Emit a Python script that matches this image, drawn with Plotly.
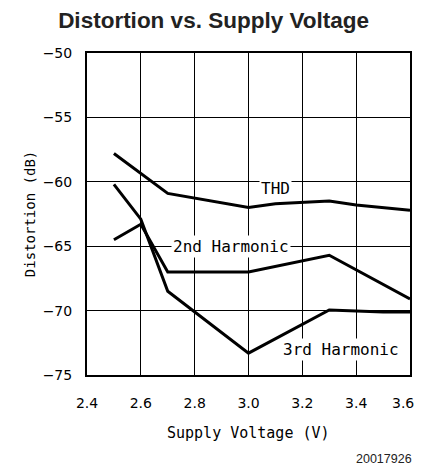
import plotly.graph_objects as go

thd_x = [2.5, 2.7, 3.0, 3.1, 3.3, 3.4, 3.6]
thd_y = [-57.8, -60.9, -62.0, -61.7, -61.5, -61.8, -62.2]
h2_x = [2.5, 2.6, 2.7, 3.0, 3.3, 3.6]
h2_y = [-64.5, -63.3, -67.0, -67.0, -65.7, -69.1]
h3_x = [2.5, 2.6, 2.7, 3.0, 3.3, 3.5, 3.6]
h3_y = [-60.2, -62.9, -68.5, -73.3, -69.95, -70.1, -70.1]

labels = ["THD", "2nd Harmonic", "3rd Harmonic"]
label_x = [3.1, 2.935, 3.343]
label_y = [-60.5, -65.0, -73.0]

x_ticks = [2.4, 2.6, 2.8, 3.0, 3.2, 3.4, 3.6]
x_ticktext = ["2.4", "2.6", "2.8", "3.0", "3.2", "3.4", "3.6"]
y_ticks = [-75, -70, -65, -60, -55, -50]
y_ticktext = ["\u221275", "\u221270", "\u221265", "\u221260", "\u221255", "\u221250"]

FONT = "DejaVu Sans Mono"
TICKFONT = "DejaVu Sans"

fig = go.Figure()
for xs, ys in [(thd_x, thd_y), (h2_x, h2_y), (h3_x, h3_y)]:
    fig.add_trace(go.Scatter(x=xs, y=ys, mode="lines",
                             line=dict(color="black", width=3),
                             showlegend=False, hoverinfo="skip"))

for t, lx, ly in zip(labels, label_x, label_y):
    fig.add_annotation(x=lx, y=ly, text=t, showarrow=False,
                       bgcolor="white", borderpad=1,
                       font=dict(family=FONT, size=16, color="black"))

# last x tick label drawn as annotation, nudged inside the visible page
fig.add_annotation(x=x_ticks[-1], y=0, xref="x", yref="paper", text=x_ticktext[-1],
                   showarrow=False, xanchor="center", yanchor="middle",
                   xshift=-7, yshift=-28,
                   font=dict(family=TICKFONT, size=14, color="black"))
axis_ticktext = x_ticktext[:-1] + [""]

# axis titles and footnote
fig.add_annotation(text="Supply Voltage (V)", xref="paper", yref="paper",
                   x=0.5, y=-0.18, xanchor="center", yanchor="middle", showarrow=False,
                   font=dict(family=FONT, size=15, color="black"))
fig.add_annotation(text="Distortion (dB)", xref="paper", yref="paper",
                   x=-0.176, y=0.5, xanchor="center", yanchor="middle", showarrow=False,
                   textangle=-90,
                   font=dict(family=FONT, size=14, color="black"))
fig.add_annotation(text="20017926", xref="paper", yref="paper", x=1.012, y=-0.261,
                   xanchor="right", yanchor="middle", showarrow=False,
                   font=dict(family="Liberation Sans", size=12.5, color="#222"))

axis_common = dict(showgrid=True, gridcolor="black", gridwidth=1,
                   showline=True, linecolor="black", linewidth=2, mirror=True,
                   ticks="", zeroline=False, automargin=False,
                   ticklabeloverflow="allow",
                   tickfont=dict(family=TICKFONT, size=14, color="black"))

fig.update_layout(
    width=423, height=470,
    margin=dict(l=79, r=21, t=45, b=103),
    paper_bgcolor="white", plot_bgcolor="white",
    title=dict(text="<b>Distortion vs. Supply Voltage</b>", x=0.486, xanchor="center",
               y=0.974, yanchor="middle",
               font=dict(family="Liberation Sans", size=22.5, color="#222")),
    xaxis=dict(range=[2.4, 3.6], tickvals=x_ticks, ticktext=axis_ticktext,
               ticklabelstandoff=14, **axis_common),
    yaxis=dict(range=[-75, -50], tickvals=y_ticks, ticktext=y_ticktext,
               ticklabelstandoff=10, **axis_common),
)

fig.write_html("out.html")
